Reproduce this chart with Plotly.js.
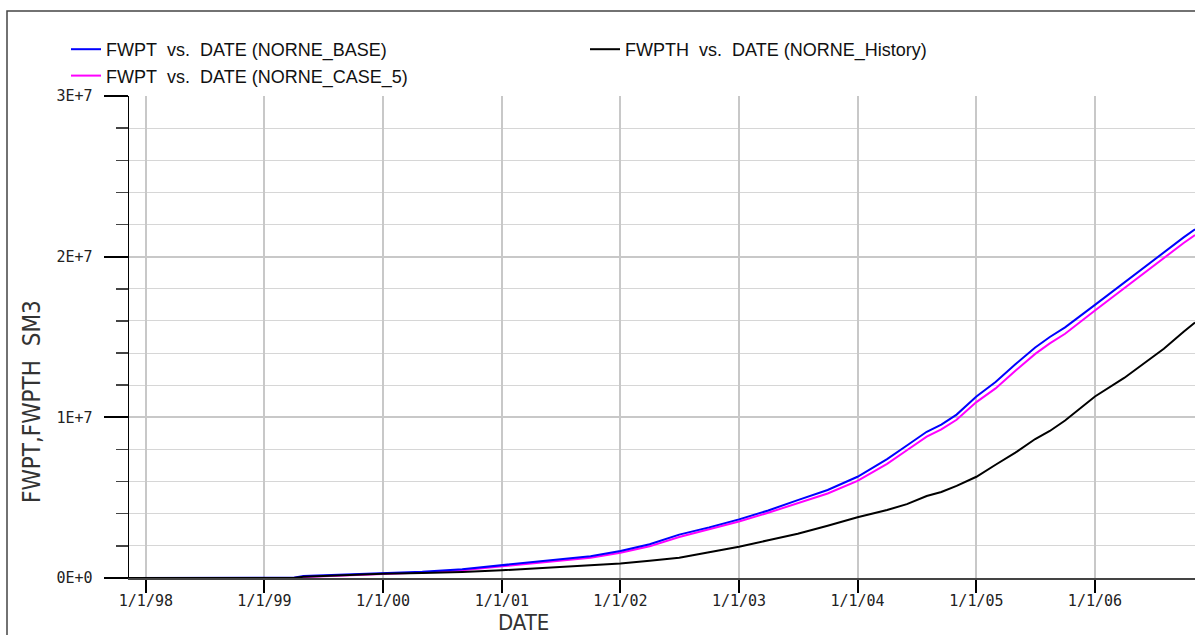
<!DOCTYPE html>
<html>
<head>
<meta charset="utf-8">
<script src="https://cdn.plot.ly/plotly-3.0.1.min.js"></script>
<style>
html,body{margin:0;padding:0;background:#fff;}
#chart{width:1195px;height:635px;}
</style>
</head>
<body>
<div id="chart"></div>
<script>
var dates = ['1997-11-06','1998-06-01','1999-04-01','1999-05-01','1999-09-01','2000-01-01','2000-05-01','2000-09-01','2001-01-01','2001-05-01','2001-08-01','2001-10-01','2002-01-01','2002-04-01','2002-07-01','2002-10-01','2003-01-01','2003-04-01','2003-07-01','2003-10-01','2004-01-01','2004-04-01','2004-06-01','2004-08-01','2004-09-15','2004-11-01','2005-01-01','2005-03-01','2005-05-01','2005-07-01','2005-08-15','2005-10-01','2006-01-01','2006-04-01','2006-06-01','2006-08-01','2006-10-01','2006-11-05'];

var fwptBase = [0,0,20000,120000,200000,280000,390000,550000,800000,1050000,1220000,1350000,1680000,2100000,2700000,3150000,3650000,4200000,4850000,5480000,6300000,7400000,8250000,9100000,9550000,10170000,11300000,12200000,13300000,14350000,15000000,15600000,17000000,18400000,19350000,20250000,21200000,21700000];

var fwptCase5 = [0,0,0,60000,150000,240000,340000,490000,730000,970000,1140000,1260000,1570000,1970000,2550000,3020000,3520000,4060000,4680000,5260000,6050000,7100000,7950000,8800000,9250000,9850000,10950000,11800000,12900000,13950000,14600000,15200000,16650000,18050000,19000000,19900000,20850000,21350000];

var fwpthHist = [0,0,0,80000,180000,260000,310000,370000,480000,630000,740000,800000,900000,1080000,1260000,1600000,1950000,2350000,2750000,3250000,3780000,4230000,4600000,5100000,5350000,5730000,6300000,7050000,7800000,8650000,9150000,9800000,11300000,12450000,13360000,14270000,15330000,15900000];

var xTickVals = ['1998-01-01','1999-01-01','2000-01-01','2001-01-01','2002-01-01','2003-01-01','2004-01-01','2005-01-01','2006-01-01'];
var xTickText = ['1/1/98','1/1/99','1/1/00','1/1/01','1/1/02','1/1/03','1/1/04','1/1/05','1/1/06'];
var yTickVals = [0,10000000,20000000,30000000];
var yTickText = ['0E+0','1E+7','2E+7','3E+7'];

var NB = '\u00A0';
var traces = [
  {x: dates, y: fwptCase5, type:'scatter', mode:'lines', name:'FWPT'+NB+NB+'vs.'+NB+NB+'DATE (NORNE_CASE_5)',
   line:{color:'#ff00ff', width:2}, legendrank:3},
  {x: dates, y: fwptBase, type:'scatter', mode:'lines', name:'FWPT'+NB+NB+'vs.'+NB+NB+'DATE (NORNE_BASE)',
   line:{color:'#0000ff', width:2}, legendrank:1},
  {x: dates, y: fwpthHist, type:'scatter', mode:'lines', name:'FWPTH'+NB+NB+'vs.'+NB+NB+'DATE (NORNE_History)',
   line:{color:'#000000', width:2}, legendrank:2}
];

var L = 129, T = 96, W = 1066, H = 482;
function px2x(p){ return (p - L)/W; }
function py2y(p){ return (T + H - p)/H; }

var tickFont = {family:'DejaVu Sans Mono, Liberation Mono, monospace', size:15, color:'#222'};
var titleFont = {family:'DejaVu Sans Condensed, DejaVu Sans, sans-serif', size:22, color:'#333'};
var yTitleFont = {family:'DejaVu Sans Condensed, DejaVu Sans, sans-serif', size:24, color:'#333'};

var layout = {
  width:1195, height:635,
  margin:{l:L, r:0, t:T, b:635-T-H, pad:0},
  paper_bgcolor:'#fff', plot_bgcolor:'#fff',
  showlegend:true,
  legend:{orientation:'h', x:px2x(66), xanchor:'left', y:py2y(31), yanchor:'top',
          entrywidth:474, entrywidthmode:'pixels', traceorder:'normal',
          font:{family:'Liberation Sans, Arial, sans-serif', size:18, color:'#111'},
          bgcolor:'rgba(0,0,0,0)', borderwidth:0},
  xaxis:{type:'date', range:['1997-11-10','2006-11-05'],
         tickvals:xTickVals, ticktext:xTickText, tickfont:tickFont,
         ticks:'outside', ticklen:13, tickwidth:2, tickcolor:'#000', ticklabelstandoff:-5,
         showgrid:true, gridcolor:'#c8c8c8', gridwidth:2,
         showline:true, linecolor:'#444', linewidth:2, zeroline:false, fixedrange:true},
  yaxis:{range:[0,30000000], tickvals:yTickVals, ticktext:yTickText, tickfont:tickFont,
         ticks:'outside', ticklen:24, tickwidth:2, tickcolor:'#000', ticklabelstandoff:8,
         showgrid:true, gridcolor:'#c8c8c8', gridwidth:2,
         minor:{dtick:2000000, tick0:0, ticks:'outside', ticklen:12, tickwidth:1.5, tickcolor:'#444',
                showgrid:true, gridcolor:'#d6d6d6', gridwidth:1},
         showline:true, linecolor:'#000', linewidth:1.5, zeroline:false, fixedrange:true},
  annotations:[
    {text:'DATE', xref:'paper', yref:'paper', x:px2x(523), y:py2y(622), xanchor:'center', yanchor:'middle',
     showarrow:false, font:titleFont},
    {text:'FWPT,FWPTH'+NB+NB+'SM3', xref:'paper', yref:'paper', x:px2x(32), y:py2y(402), xanchor:'center', yanchor:'middle',
     textangle:-90, showarrow:false, font:yTitleFont}
  ],
  shapes:[
    {type:'path', xref:'paper', yref:'paper',
     path:'M '+px2x(7)+' '+py2y(645)+' L '+px2x(7)+' '+py2y(11)+' L '+px2x(1205)+' '+py2y(11),
     line:{color:'#444', width:1.5}, layer:'above'}
  ]
};

Plotly.newPlot('chart', traces, layout, {displayModeBar:false, staticPlot:true});
</script>
</body>
</html>
